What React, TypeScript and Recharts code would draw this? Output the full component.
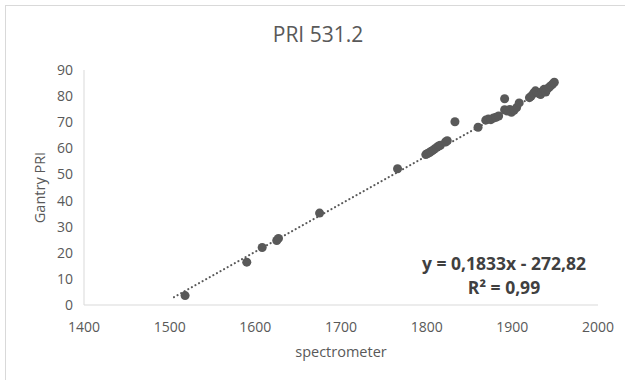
import { ScatterChart, Scatter, XAxis, YAxis, ZAxis } from 'recharts'

const spectrometer = [
  1518, 1590, 1608, 1625, 1627, 1675, 1766,
  1799, 1801, 1803, 1805, 1807, 1809, 1812, 1814, 1816, 1822, 1824,
  1833, 1860,
  1869, 1872, 1875, 1878, 1881, 1884,
  1891, 1891, 1894, 1897, 1899, 1902, 1905, 1908,
  1920, 1922, 1925, 1927, 1929, 1931, 1933, 1935, 1937, 1939, 1941, 1943, 1945, 1947, 1949,
]
const gantryPri = [
  3.6, 16.4, 22.0, 24.7, 25.5, 35.2, 52.2,
  57.6, 58.0, 58.3, 58.8, 59.2, 59.7, 60.4, 60.9, 61.2, 62.4, 62.9,
  70.2, 68.1,
  70.8, 71.2, 71.0, 71.6, 71.9, 72.4,
  79.0, 74.8, 74.3, 74.9, 73.8, 74.6, 75.6, 77.4,
  79.4, 80.0, 81.2, 82.0, 81.4, 81.0, 80.6, 81.8, 82.6, 81.6, 82.8, 83.4, 84.0, 84.6, 85.3,
]
const trendX = [1505, 1950]
const trendY = [3.0, 84.6]
const xTicks = [1400, 1500, 1600, 1700, 1800, 1900, 2000]
const yTicks = [0, 10, 20, 30, 40, 50, 60, 70, 80, 90]

const points = spectrometer.map((x, i) => ({ x, y: gantryPri[i] }))
const trend = trendX.map((x, i) => ({ x, y: trendY[i] }))

const font = '"Open Sans", Lato, sans-serif'
const grey = '#595959'

export default function App() {
  return (
    <div style={{ position: 'absolute', left: 0, top: 0, width: 625, height: 380, background: '#fff', fontFamily: font }}>
      <div style={{ position: 'absolute', left: 5, top: 5, width: 620, height: 375, borderLeft: '1px solid #d9d9d9', borderTop: '1px solid #d9d9d9' }} />
      <div style={{ position: 'absolute', left: 0, width: 636, top: 20, textAlign: 'center', fontSize: 21, color: grey }}>
        PRI 531.2
      </div>
      <ScatterChart width={625} height={380} margin={{ top: 70, right: 27, left: 8, bottom: 30 }}>
        <XAxis
          type="number"
          dataKey="x"
          domain={[1400, 2000]}
          ticks={xTicks}
          height={45}
          tickLine={false}
          tickSize={0}
          tickMargin={17}
          axisLine={{ stroke: '#d9d9d9' }}
          tick={{ fill: grey, fontSize: 14, fontFamily: font }}
          label={{ value: 'spectrometer', position: 'insideBottom', offset: -7, fill: grey, fontSize: 14.5, fontFamily: font }}
        />
        <YAxis
          type="number"
          dataKey="y"
          domain={[0, 90]}
          ticks={yTicks}
          width={76}
          tickLine={false}
          tickSize={0}
          tickMargin={11}
          axisLine={{ stroke: '#d9d9d9' }}
          tick={{ fill: grey, fontSize: 14, fontFamily: font }}
          label={{ value: 'Gantry PRI', angle: -90, position: 'insideLeft', offset: 32, fill: grey, fontSize: 14.5, fontFamily: font, style: { textAnchor: 'middle' } }}
        />
        <ZAxis range={[80, 80]} />
        <Scatter
          data={trend}
          fill="none"
          line={{ stroke: grey, strokeWidth: 2, strokeDasharray: '0.1 4', strokeLinecap: 'round' }}
          shape={() => <g />}
          isAnimationActive={false}
        />
        <Scatter data={points} fill={grey} isAnimationActive={false} />
      </ScatterChart>
      <div style={{ position: 'absolute', left: 404, width: 200, top: 251, textAlign: 'center', fontSize: 17.5, fontWeight: 700, color: '#404040', lineHeight: '24px' }}>
        y = 0,1833x - 272,82
        <br />
        R² = 0,99
      </div>
    </div>
  )
}
